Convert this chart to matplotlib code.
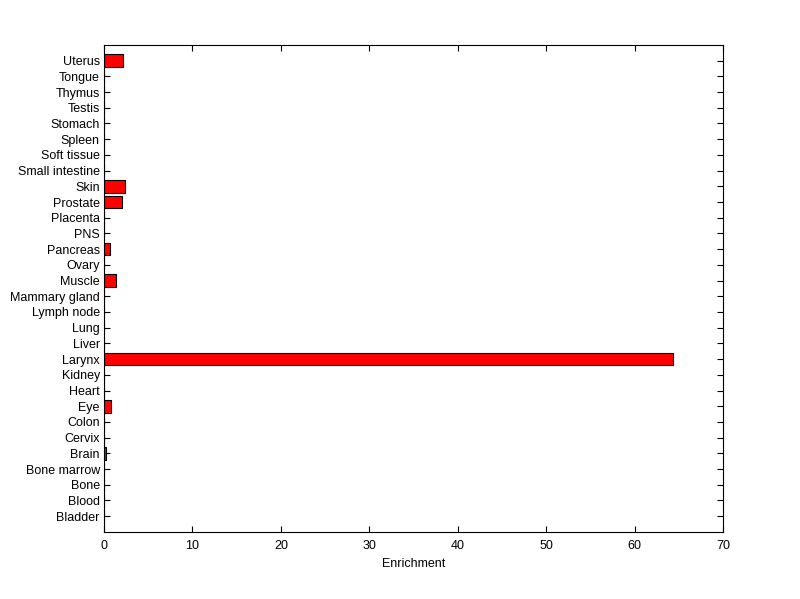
import matplotlib
matplotlib.use("Agg")
import matplotlib.pyplot as plt

tissues = ["Bladder", "Blood", "Bone", "Bone marrow", "Brain", "Cervix", "Colon",
           "Eye", "Heart", "Kidney", "Larynx", "Liver", "Lung", "Lymph node",
           "Mammary gland", "Muscle", "Ovary", "Pancreas", "PNS", "Placenta",
           "Prostate", "Skin", "Small intestine", "Soft tissue", "Spleen",
           "Stomach", "Testis", "Thymus", "Tongue", "Uterus"]
enrichment = [0, 0, 0, 0, 0.2, 0, 0,
              0.77, 0, 0, 64.3, 0, 0, 0,
              0, 1.34, 0, 0.66, 0, 0,
              2.05, 2.4, 0, 0, 0,
              0, 0, 0, 0, 2.17]
xticks = [0, 10, 20, 30, 40, 50, 60, 70]

plt.rcParams['font.family'] = ['Liberation Sans', 'DejaVu Sans']
fig = plt.figure(figsize=(8.0, 5.99), dpi=100)
ax = fig.add_axes([0.13, 0.112, 0.774, 0.813])
ax.set_axisbelow(True)

pos = list(range(1, len(tissues) + 1))
ax.barh(pos, enrichment, height=0.8, color='#ff0000', edgecolor='black', linewidth=0.8)
ax.set_ylim(0, len(tissues) + 1)
ax.set_xlim(0, 70)
ax.set_yticks(pos)
ax.set_yticklabels(tissues, fontsize=9)
ax.set_xticks(xticks)
ax.set_xticklabels([str(v) for v in xticks], fontsize=9)
ax.tick_params(axis='both', direction='in', length=4.5, width=0.8,
               top=True, right=True)
ax.tick_params(axis='y', pad=3)
ax.tick_params(axis='x', pad=6)
for s in ax.spines.values():
    s.set_linewidth(0.8)
ax.set_xlabel("Enrichment", fontsize=9, labelpad=4)

fig.savefig("out.png", dpi=100)
